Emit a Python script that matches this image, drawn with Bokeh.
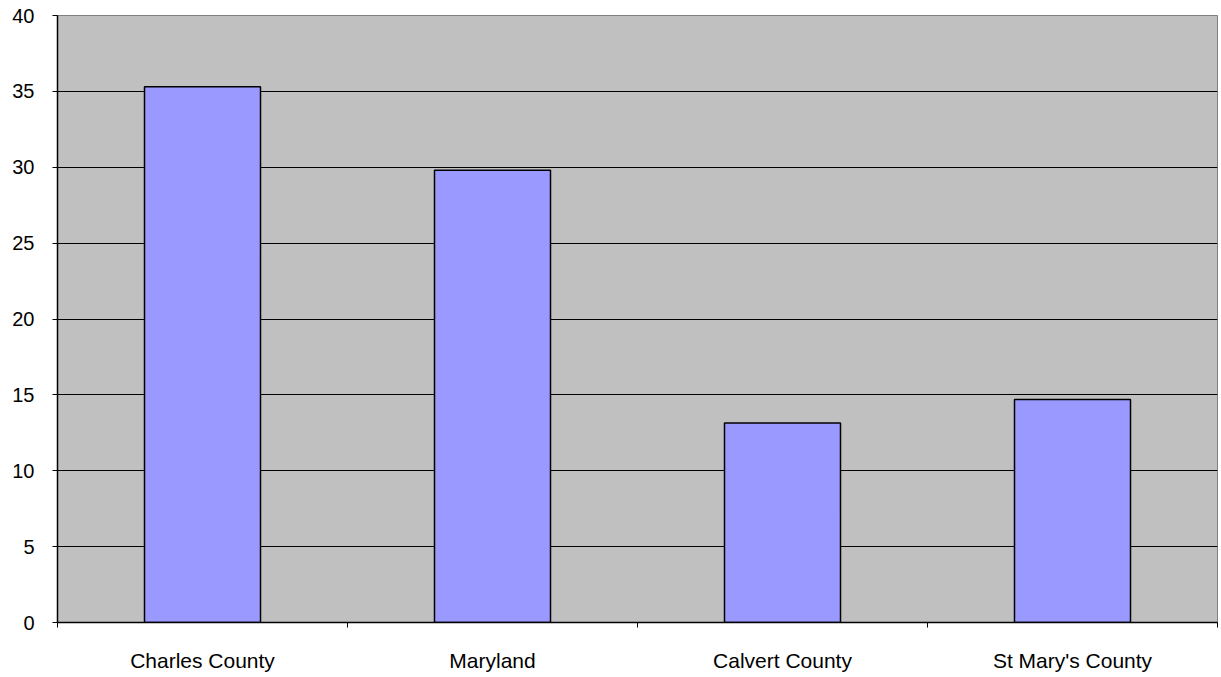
from bokeh.plotting import figure
from bokeh.models import FixedTicker, Range1d
from bokeh.embed import file_html
from bokeh.resources import INLINE

categories = ["Charles County", "Maryland", "Calvert County", "St Mary's County"]
values = [35.3, 29.8, 13.15, 14.7]
y_ticks = [0, 5, 10, 15, 20, 25, 30, 35, 40]

xs = [i + 0.5 for i in range(len(categories))]

p = figure(width=1219, height=675, output_backend="svg", toolbar_location=None,
           x_range=Range1d(0, len(categories)), y_range=Range1d(0, 40),
           min_border_left=57, min_border_right=2, min_border_top=15, min_border_bottom=53)

p.background_fill_color = "#C0C0C0"
p.border_fill_color = "white"
p.outline_line_color = "#808080"
p.outline_line_width = 1

p.vbar(x=xs, top=values, width=0.4, fill_color="#9999FF", line_color="black", line_width=1.5)

# grid
p.xgrid.grid_line_color = None
p.ygrid.grid_line_color = "black"
p.ygrid.grid_line_width = 1
p.ygrid.ticker = FixedTicker(ticks=y_ticks)

# y axis
p.yaxis.ticker = FixedTicker(ticks=y_ticks)
p.yaxis.axis_line_color = "black"
p.yaxis.axis_line_width = 1.5
p.yaxis.major_tick_line_color = "black"
p.yaxis.major_tick_out = 5
p.yaxis.major_tick_in = 0
p.yaxis.minor_tick_line_color = None
p.yaxis.major_label_standoff = 18
p.yaxis.major_label_text_font = "Liberation Sans"
p.yaxis.major_label_text_font_size = "20px"
p.yaxis.major_label_text_color = "black"

# x axis
p.xaxis.ticker = FixedTicker(ticks=xs, minor_ticks=list(range(len(categories) + 1)))
p.xaxis.major_label_overrides = {x: c for x, c in zip(xs, categories)}
p.xaxis.axis_line_color = "black"
p.xaxis.axis_line_width = 1.5
p.xaxis.major_tick_out = 0
p.xaxis.major_tick_in = 0
p.xaxis.minor_tick_line_color = "black"
p.xaxis.minor_tick_out = 5
p.xaxis.minor_tick_in = 0
p.xaxis.major_label_standoff = 21
p.xaxis.major_label_text_font = "Liberation Sans"
p.xaxis.major_label_text_font_size = "21px"
p.xaxis.major_label_text_color = "black"

open("out.html", "w").write(file_html(p, INLINE))
